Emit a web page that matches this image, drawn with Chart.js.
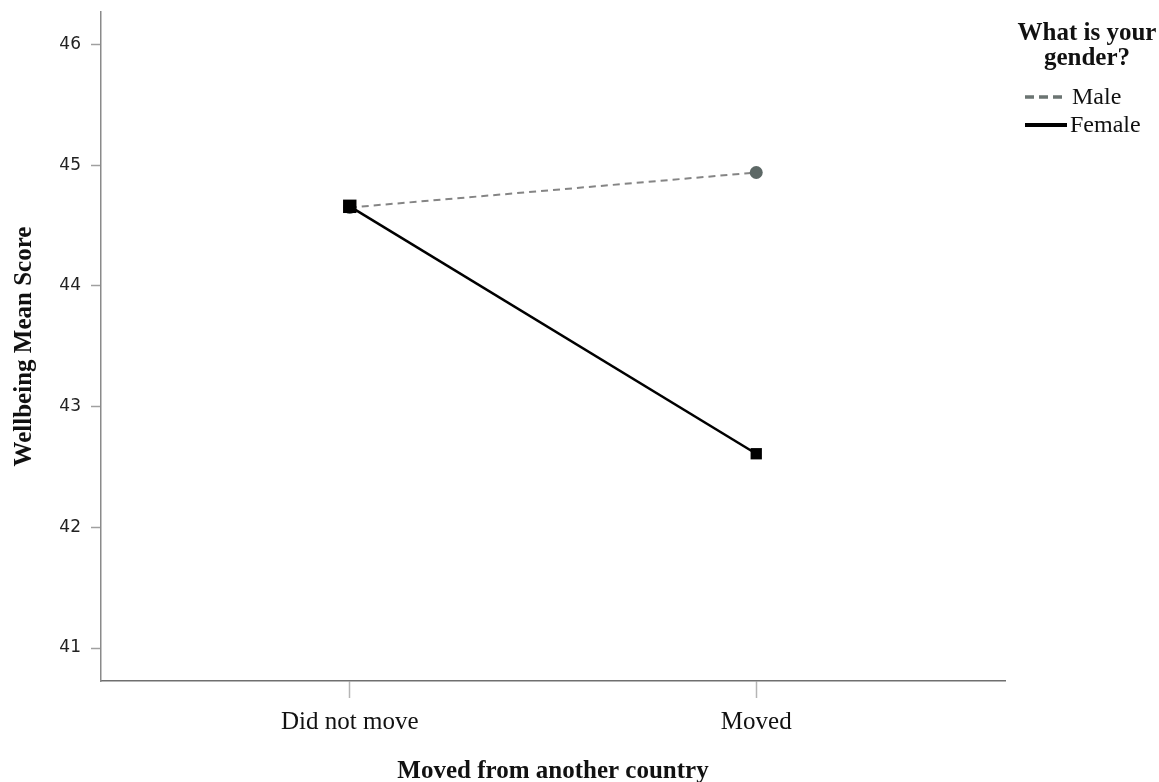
<!DOCTYPE html>
<html>
<head>
<meta charset="utf-8">
<script src="https://cdn.jsdelivr.net/npm/chart.js@4"></script>
<style>
  html, body { margin: 0; padding: 0; background: #fff; }
  #wrap { width: 1159px; height: 782px; }
</style>
</head>
<body>
<div id="wrap"><canvas id="meansChart" width="1159" height="782"></canvas></div>
<script>
// Данные графика
const categories = ['Did not move', 'Moved'];
const categoryPos = [0, 1];
const maleMeans = [44.65, 44.94];
const femaleMeans = [44.66, 42.61];
const yTicks = [41, 42, 43, 44, 45, 46];
const legendTitle = ['What is your', 'gender?'];
const legendLabels = ['Male', 'Female'];

const serif = '"Liberation Serif", "Times New Roman", serif';

// Легенда рисуется вручную (заголовок в две строки)
const sideLegend = {
    id: 'sideLegend',
    afterDraw(chart) {
        const ctx = chart.ctx;
        ctx.save();
        ctx.fillStyle = '#111';
        ctx.textBaseline = 'middle';
        ctx.textAlign = 'center';
        ctx.font = 'bold 25px ' + serif;
        ctx.fillText(legendTitle[0], 1087, 34);
        ctx.fillText(legendTitle[1], 1087, 59);

        ctx.textAlign = 'left';
        ctx.font = '24px ' + serif;
        // Male
        ctx.strokeStyle = '#6b7472';
        ctx.lineWidth = 3.5;
        ctx.setLineDash([9, 5]);
        ctx.beginPath();
        ctx.moveTo(1025, 97);
        ctx.lineTo(1064, 97);
        ctx.stroke();
        ctx.fillText(legendLabels[0], 1072, 98);
        // Female
        ctx.strokeStyle = '#000';
        ctx.setLineDash([]);
        ctx.lineWidth = 4;
        ctx.beginPath();
        ctx.moveTo(1025, 125);
        ctx.lineTo(1067, 125);
        ctx.stroke();
        ctx.fillText(legendLabels[1], 1070, 126);
        ctx.restore();
    }
};

new Chart(document.getElementById('meansChart'), {
    type: 'line',
    data: {
        datasets: [
            {
                label: legendLabels[1],
                data: categoryPos.map((x, i) => ({ x: x, y: femaleMeans[i] })),
                borderColor: '#000',
                borderWidth: 2.5,
                pointStyle: 'rect',
                pointRadius: [9.5, 8],
                pointBackgroundColor: '#000',
                pointBorderWidth: 0,
                order: 0,
            },
            {
                label: legendLabels[0],
                data: categoryPos.map((x, i) => ({ x: x, y: maleMeans[i] })),
                borderColor: '#858585',
                borderWidth: 2,
                borderDash: [7, 5],
                pointStyle: 'circle',
                pointRadius: 6.5,
                pointBackgroundColor: '#5d6866',
                pointBorderWidth: 0,
                order: 1,
            },
        ],
    },
    options: {
        responsive: false,
        animation: false,
        layout: { padding: { top: 12, right: 154, left: 0, bottom: 0 } },
        plugins: {
            legend: { display: false },
            tooltip: { enabled: false },
        },
        scales: {
            x: {
                type: 'linear',
                min: -0.612,
                max: 1.612,
                afterBuildTicks: (scale) => { scale.ticks = categoryPos.map(v => ({ value: v })); },
                afterFit: (scale) => { scale.height = 101; },
                ticks: {
                    callback: (v) => categories[categoryPos.indexOf(v)],
                    font: { family: serif, size: 25 },
                    color: '#111',
                    padding: 9,
                    maxRotation: 0,
                },
                grid: { drawOnChartArea: false, tickLength: 17, tickColor: '#b5b5b5', tickWidth: 1.5 },
                border: { color: '#6f6f6f', width: 1.5 },
                title: {
                    display: true,
                    text: 'Moved from another country',
                    font: { family: serif, size: 25, weight: 'bold', lineHeight: 0.8 },
                    color: '#111',
                    padding: { top: 0, bottom: 0 },
                },
            },
            y: {
                min: 40.727,
                max: 46.27,
                afterBuildTicks: (scale) => { scale.ticks = yTicks.map(v => ({ value: v })); },
                afterFit: (scale) => {
                    scale.width = 101;
                    scale.paddingTop = 0;
                    scale.paddingBottom = 0;
                },
                ticks: {
                    font: { family: '"DejaVu Sans", sans-serif', size: 17 },
                    color: '#222',
                    padding: 10,
                },
                grid: { drawOnChartArea: false, tickLength: 10, tickColor: '#a0a0a0', tickWidth: 1.5 },
                border: { color: '#8a8a8a', width: 1.5 },
                title: {
                    display: true,
                    text: 'Wellbeing Mean Score',
                    font: { family: serif, size: 25, weight: 'bold' },
                    color: '#111',
                    padding: { top: 10, bottom: 0 },
                },
            },
        },
    },
    plugins: [sideLegend],
});
</script>
</body>
</html>
